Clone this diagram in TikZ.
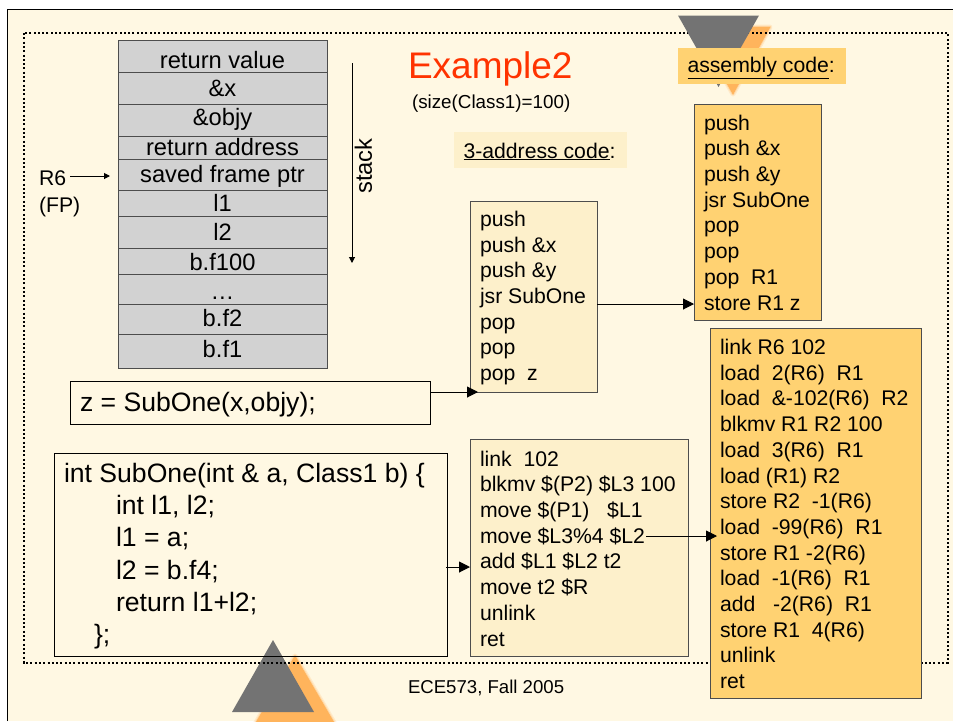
\documentclass[tikz,border=0pt]{standalone}
\usepackage{fontspec}
\setmainfont[Kerning=Off]{Liberation Sans}
\usetikzlibrary{arrows.meta, positioning}

\definecolor{slidecream}{HTML}{FFF8E3}
\definecolor{tacfill}{HTML}{FDF0CB}
\definecolor{asmfill}{HTML}{FFD272}
\definecolor{stackgray}{HTML}{D2D2D2}
\definecolor{edgegray}{HTML}{4D4D4D}
\definecolor{trigray}{HTML}{737373}
\definecolor{triglow}{HTML}{FFB45C}
\definecolor{titlered}{HTML}{FF3300}

\begin{document}
\begin{tikzpicture}[
    x=1pt, y=-1pt,
    stackrow/.style={draw=edgegray, line width=1pt, fill=stackgray, minimum width=209pt, inner sep=0pt, outer sep=0pt},
    stacktext/.style={anchor=base, inner sep=0pt, outer sep=0pt, font=\fontsize{23.7}{26}\selectfont},
    codebox/.style={draw=edgegray, line width=1pt, anchor=north west, inner sep=0pt, outer sep=0pt},
    codetext/.style={anchor=west, align=left, inner sep=0pt, outer sep=0pt, font=\fontsize{21.2}{25.7}\selectfont},
    tacbox/.style={codebox, fill=tacfill},
    asmbox/.style={codebox, fill=asmfill},
    srcbox/.style={draw=black, line width=1pt, anchor=north west, inner sep=0pt, outer sep=0pt},
    srctext/.style={anchor=west, align=left, inner sep=0pt, outer sep=0pt, font=\fontsize{26.6}{32.3}\selectfont},
    tagbox/.style={anchor=north west, inner sep=0pt, outer sep=0pt, minimum height=36pt},
    plainlabel/.style={inner sep=0pt, outer sep=0pt, anchor=west},
    flowarrow/.style={line width=1pt, -{Triangle[length=11pt,width=11pt]}},
    thinarrow/.style={line width=1pt, -{Triangle[length=6pt,width=6pt]}},
    triglowline/.style={draw=triglow, fill=triglow, line join=round}
]
\clip (0,0) rectangle (953,721);
\fill[white] (0,0) rectangle (953,721);

% Slide background
\fill[slidecream] (7,9) rectangle (953,721);
\draw[line width=1pt] (7,721) -- (7,9) -- (953,9);

% Blurred glow behind the triangles
\foreach \glowwidth/\glowop in {5/0.2, 2.5/0.35, 0.5/1} {
    \path[triglowline, line width=\glowwidth pt, opacity=\glowop] (695,27) -- (770,27) -- (733,94) -- cycle;
    \path[triglowline, line width=\glowwidth pt, opacity=\glowop] (295,656) -- (336,726) -- (254,726) -- cycle;
}

% Lower triangle sits under the frame
\fill[trigray] (273,640) -- (314,712) -- (232,712) -- cycle;

% Dotted frame
\draw[line width=2pt, dash pattern=on 2pt off 2.3pt] (23.5,33) rectangle (948,662.5);

% Upper triangle sits over the frame
\fill[trigray] (678,15.5) -- (759,15.5) -- (718.5,87) -- cycle;

% Stack
\node[stackrow, minimum height=32pt] (s1) at (222.5,56) {};
\node[stackrow, minimum height=32pt] (s2) at (222.5,88) {};
\node[stackrow, minimum height=32pt] (s3) at (222.5,120) {};
\node[stackrow, minimum height=23pt] (s4) at (222.5,147.5) {};
\node[stackrow, minimum height=31pt] (s5) at (222.5,174.5) {};
\node[stackrow, minimum height=26pt] (s6) at (222.5,203) {};
\node[stackrow, minimum height=32pt] (s7) at (222.5,232) {};
\node[stackrow, minimum height=26pt] (s8) at (222.5,261) {};
\node[stackrow, minimum height=30pt] (s9) at (222.5,289) {};
\node[stackrow, minimum height=30pt] (s10) at (222.5,319) {};
\node[stackrow, minimum height=34pt] (s11) at (222.5,351) {};

% Stack entries keep one line pitch
\node[stacktext] (t1) at (222.5,68) {return value};
\node[stacktext] (t2) at (222.5,96.7) {\&x};
\node[stacktext] (t3) at (222.5,125) {\&objy};
\node[stacktext] (t4) at (222.5,155) {return address};
\node[stacktext] (t5) at (222.5,182.7) {saved frame ptr};
\node[stacktext] (t6) at (222.5,211.7) {l1};
\node[stacktext] (t7) at (222.5,240.7) {l2};
\node[stacktext] (t8) at (222.5,270) {b.f100};
\node[stacktext] (t9) at (222.5,299) {…};
\node[stacktext] (t10) at (222.5,326.7) {b.f2};
\node[stacktext] (t11) at (222.5,357) {b.f1};

% Frame pointer
\node[plainlabel, font=\fontsize{21.2}{25}\selectfont] (rsix) at (39,178) {R6};
\node[plainlabel, font=\fontsize{21.2}{25}\selectfont] (fp) at (39,207) {(FP)};
\draw[thinarrow, shorten <=4pt, shorten >=8pt] ([yshift=2pt]rsix.east) -- ([yshift=2pt]rsix.east -| s5.west);

% Stack direction
\coordinate (growtop) at (352,63);
\coordinate (growend) at (352,263);
\draw[thinarrow] (growtop) -- (growend);
\node[plainlabel, anchor=center, rotate=90, font=\fontsize{23.7}{26}\selectfont] (stacklabel) at (363.5,166) {stack};

% Titles
\node[plainlabel, text=titlered, font=\fontsize{37}{40}\selectfont] (title) at (408,69) {Example2};
\node[plainlabel, font=\fontsize{18.8}{22}\selectfont] (sizenote) at (412,104) {(size(Class1)=100)};
\node[tagbox, fill=tacfill, minimum width=173pt] (tactag) at (454,132) {};
\node[plainlabel, font=\fontsize{21.2}{25}\selectfont] (tactagtext) at (463.5,151.5) {\underline{3-address code}:};
\node[tagbox, fill=asmfill, minimum width=168pt] (asmtag) at (678,48) {};
\node[plainlabel, font=\fontsize{21.2}{25}\selectfont] (asmtagtext) at (687.5,68) {\underline{assembly code}:};

% Call site
\node[srcbox, minimum width=360pt, minimum height=43pt] (callsite) at (70,381) {};
\node[srctext] (callsitetext) at (80,405) {z = SubOne(x,objy);};

% Function body
\node[srcbox, minimum width=393pt, minimum height=203pt] (subone) at (54,453) {};
\node[srctext] (subonetext) at (64,556) {int SubOne(int \& a, Class1 b) \{\\
\hspace*{52pt}int l1, l2;\\
\hspace*{52pt}l1 = a;\\
\hspace*{52pt}l2 = b.f4;\\
\hspace*{52pt}return l1+l2;\\
\hspace*{30pt}\};};

% 3-address code
\node[tacbox, minimum width=127pt, minimum height=191pt] (tacone) at (470,201) {};
\node[codetext] (taconetext) at (480,298) {push\\
push \&x\\
push \&y\\
jsr SubOne\\
pop\\
pop\\
pop~~z};
\node[tacbox, minimum width=218pt, minimum height=217pt] (tactwo) at (470,439) {};
\node[codetext] (tactwotext) at (480,548.5) {link~~102\\
blkmv \$(P2) \$L3 100\\
move \$(P1)~~~\$L1\\
move \$L3\%4 \$L2\\
add \$L1 \$L2 t2\\
move t2 \$R\\
unlink\\
ret};

% Assembly code
\node[asmbox, minimum width=127pt, minimum height=216pt] (asmone) at (694,104) {};
\node[codetext] (asmonetext) at (704,212.5) {push\\
push \&x\\
push \&y\\
jsr SubOne\\
pop\\
pop\\
pop~~R1\\
store R1 z};
\node[asmbox, minimum width=211pt, minimum height=370pt] (asmtwo) at (710,328) {};
\node[codetext] (asmtwotext) at (720,514) {link R6 102\\
load~~2(R6)~~R1\\
load~~\&-102(R6)~~R2\\
blkmv R1 R2 100\\
load~~3(R6)~~R1\\
load (R1) R2\\
store R2~~-1(R6)\\
load~~-99(R6)~~R1\\
store R1 -2(R6)\\
load~~-1(R6)~~R1\\
add~~~-2(R6)~~R1\\
store R1~~4(R6)\\
unlink\\
ret};

% Connectors
\coordinate (jsrout) at (597,304);
\coordinate (moveout) at (646,536);
\coordinate (bodyout) at (446,567);
\draw[flowarrow, shorten >=-8pt] (callsite.east |- tacone.south) -- (tacone.south west);
\draw[flowarrow] (jsrout) -- (jsrout -| asmone.west);
\draw[flowarrow] (bodyout) -- (bodyout -| tactwo.west);
\draw[flowarrow, shorten >=-7pt] (moveout) -- (moveout -| asmtwo.west);

% Footer
\node[plainlabel, font=\fontsize{18.6}{22}\selectfont] (footer) at (408,688) {ECE573, Fall 2005};
\end{tikzpicture}
\end{document}
